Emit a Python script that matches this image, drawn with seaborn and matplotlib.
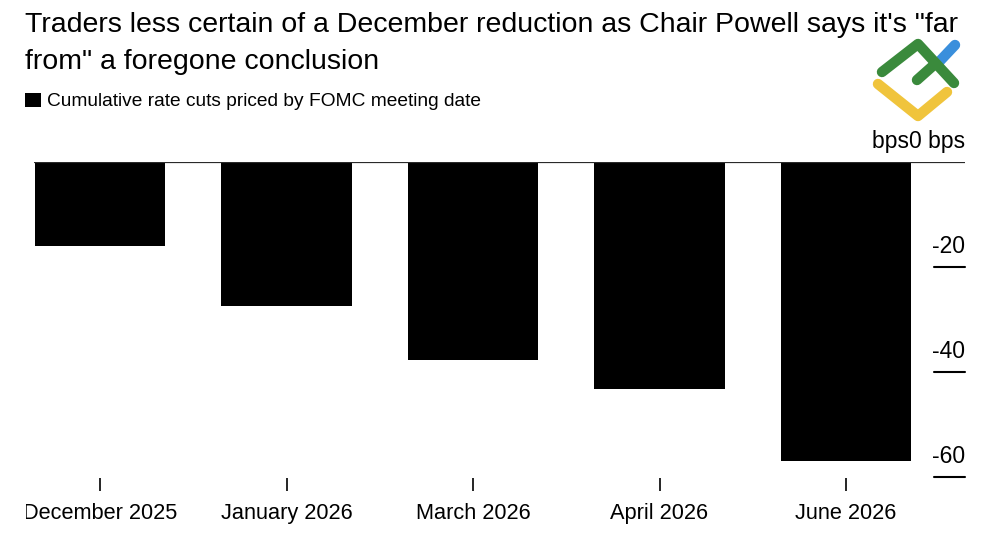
import matplotlib
matplotlib.use("Agg")
import matplotlib.pyplot as plt
import matplotlib.transforms as mtransforms
from matplotlib.patches import Rectangle
from matplotlib.lines import Line2D
import seaborn as sns
import pandas as pd

# ---- data ----
meeting_dates = ["December 2025", "January 2026", "March 2026", "April 2026", "June 2026"]
cuts_bps = [-16, -27.5, -37.8, -43.3, -57]
ytick_values = [0, -20, -40, -60]
ytick_labels = ["bps0 bps", "-20", "-40", "-60"]
title_lines = ["Traders less certain of a December reduction as Chair Powell says it's \"far",
               "from\" a foregone conclusion"]
legend_label = "Cumulative rate cuts priced by FOMC meeting date"

sns.set_theme(style="white")
plt.rcParams["font.family"] = ["Liberation Sans", "DejaVu Sans"]

W, H = 1000, 545
fig = plt.figure(figsize=(W / 100, H / 100), dpi=100)
fig.patch.set_facecolor("white")

def fx(px):
    return px / W

def fy(py):
    return 1 - py / H

ax_left, ax_right, ax_top, ax_bottom = 34, 965, 162, 478
ax = fig.add_axes([fx(ax_left), fy(ax_bottom), (ax_right - ax_left) / W, (ax_bottom - ax_top) / H])

df = pd.DataFrame({"date": meeting_dates, "cuts": cuts_bps})
sns.barplot(data=df, x="date", y="cuts", color="black", saturation=1, width=0.7, ax=ax,
            order=meeting_dates, edgecolor="none")

ax.set_xlim(-0.354, 4.638)
ax.set_ylim(-60.2, 0)
for s in ax.spines.values():
    s.set_visible(False)
ax.set_xlabel("")
ax.set_ylabel("")
ax.set_yticks([])
ax.tick_params(axis="x", bottom=True, length=9, width=1.2, color="black", pad=9,
               labelsize=15.7, labelcolor="black")

ax.axhline(0, color="#2a2a2a", lw=1.6, zorder=3)

blend = mtransforms.blended_transform_factory(ax.transAxes, ax.transData)
for v, lab in zip(ytick_values, ytick_labels):
    if v != 0:
        ax.plot([0.967, 1.0], [v, v], color="black", lw=1.5, transform=blend, clip_on=False)
    ax.text(1.0, v + 3.9, lab, transform=blend, ha="right", va="center",
            fontsize=16.5, color="black", clip_on=False)

# reference crops the first x label at its left edge
fig.add_artist(Rectangle((0, fy(540)), fx(26), 50 / H, transform=fig.transFigure,
                         facecolor="white", edgecolor="none", zorder=5))

# title
fig.text(fx(25), fy(32), title_lines[0], fontsize=20.5, color="black", va="baseline", ha="left")
fig.text(fx(25), fy(69), title_lines[1], fontsize=20.5, color="black", va="baseline", ha="left")

# legend
fig.add_artist(Rectangle((fx(25), fy(107)), 16 / W, 14 / H, transform=fig.transFigure,
                         facecolor="black", edgecolor="none"))
fig.text(fx(47), fy(101), legend_label, fontsize=13.75, color="black", va="center", ha="left")

# watermark logo
def seg(pts, color):
    xs = [fx(p[0]) for p in pts]
    ys = [fy(p[1]) for p in pts]
    fig.add_artist(Line2D(xs, ys, transform=fig.transFigure, color=color, lw=7.5,
                          solid_capstyle="round", solid_joinstyle="round"))

seg([(938, 63), (955, 45)], "#3a8fdc")
seg([(882, 72), (918, 44), (954, 83)], "#3a8a3c")
seg([(917, 80), (935, 64)], "#3a8a3c")
seg([(878, 84), (918, 116), (947, 92)], "#f0c43c")

fig.savefig("out.png", dpi=100, facecolor="white")
